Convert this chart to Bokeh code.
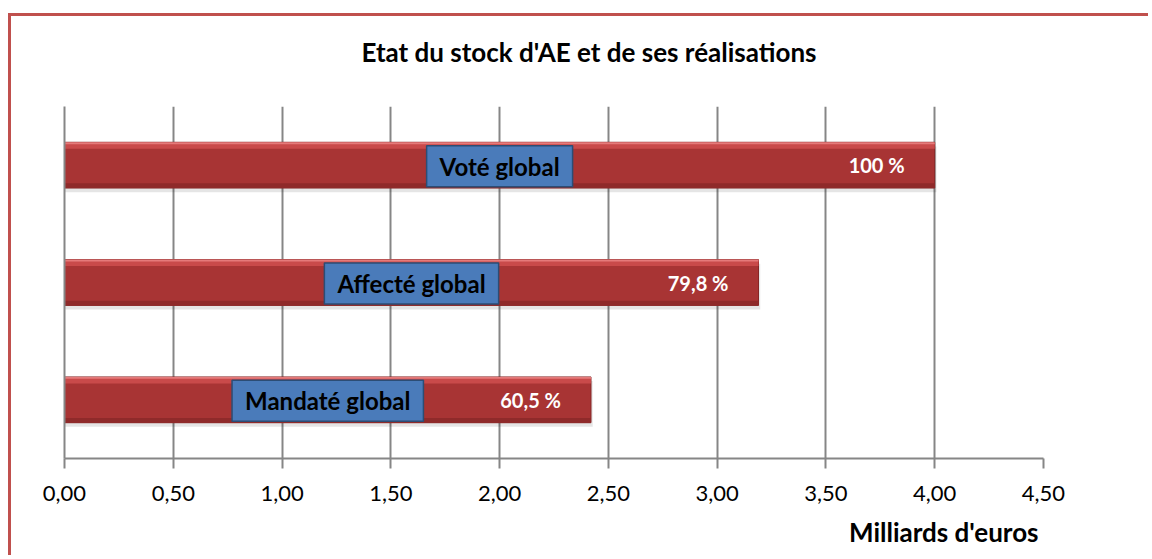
from bokeh.plotting import figure
from bokeh.models import FixedTicker, Range1d, Title
from bokeh.embed import file_html
from bokeh.resources import INLINE
from bokeh.core.properties import value

# ---- data ----
categories = ["Voté global", "Affecté global", "Mandaté global"]
amounts = [4.00, 3.19, 2.42]
percent_labels = ["100 %", "79,8 %", "60,5 %"]
tick_values = [0, 0.5, 1, 1.5, 2, 2.5, 3, 3.5, 4, 4.5]
tick_labels = ["0,00", "0,50", "1,00", "1,50", "2,00", "2,50", "3,00", "3,50", "4,00", "4,50"]
title_text = "Etat du stock d'AE et de ses réalisations"
x_label = "Milliards d'euros"

FONT = "Lato"
n = len(categories)
ypos = [n - i - 0.5 for i in range(n)]
bar_h = 0.39

p = figure(width=1140, height=542, output_backend="svg", toolbar_location=None,
           x_range=Range1d(0, 4.5), y_range=Range1d(0, n),
           min_border_left=53, min_border_right=108, min_border_top=90, min_border_bottom=99)
p.margin = (13, 0, 0, 8)
p.styles = {"border-left": "3px solid #C0504D", "border-top": "3px solid #C0504D"}
p.outline_line_color = None
p.background_fill_color = "white"
p.border_fill_color = "white"

# spacer between frame and title, then the title (outermost)
p.add_layout(Title(text=" ", text_font_size="1px", standoff=34), "above")
p.title = Title(text=title_text, align="left", offset=297, standoff=4,
                text_font=FONT, text_font_size="26px", text_font_style="bold",
                text_color="black")
p.add_layout(Title(text=x_label, align="right", offset=5, standoff=21,
                   text_font=FONT, text_font_size="26px", text_font_style="bold",
                   text_color="black"), "below")

# axes
p.xaxis.ticker = FixedTicker(ticks=tick_values)
p.xaxis.major_label_overrides = {t: l for t, l in zip(tick_values, tick_labels)}
p.xaxis.axis_line_color = "#868686"
p.xaxis.axis_line_width = 2
p.xaxis.major_tick_line_color = "#868686"
p.xaxis.major_tick_line_width = 2
p.xaxis.major_tick_out = 10
p.xaxis.major_tick_in = 0
p.xaxis.minor_tick_line_color = None
p.xaxis.major_label_text_font = FONT
p.xaxis.major_label_text_font_size = "22px"
p.xaxis.major_label_text_color = "black"
p.xaxis.major_label_standoff = 17

p.yaxis.ticker = FixedTicker(ticks=[])
p.yaxis.axis_line_color = "#868686"
p.yaxis.axis_line_width = 2
p.yaxis.minor_tick_line_color = None
p.yaxis.major_tick_line_color = None

p.xgrid.ticker = FixedTicker(ticks=tick_values)
p.xgrid.grid_line_color = "#868686"
p.xgrid.grid_line_width = 2
p.ygrid.grid_line_color = None

# shadow
p.hbar(y=[y - 0.035 for y in ypos], left=0, right=[a + 0.008 for a in amounts], height=bar_h,
       fill_color="black", fill_alpha=0.10, line_color=None)
# bars
p.hbar(y=ypos, left=0, right=amounts, height=bar_h,
       fill_color="#A83434", line_color="#862626", line_width=1)
# bevel: light top band and darker bottom band
p.hbar(y=[y + bar_h / 2 - 0.03 for y in ypos], left=0, right=amounts, height=0.05,
       fill_color="#C94A4A", line_color=None)
p.hbar(y=[y + bar_h / 2 - 0.008 for y in ypos], left=0, right=amounts, height=0.016,
       fill_color="#E57A7A", line_color=None)
p.hbar(y=[y - bar_h / 2 + 0.02 for y in ypos], left=0, right=amounts, height=0.04,
       fill_color="#8F2A2A", line_color=None)

# category boxes at bar middle
p.text(x=[a / 2 for a in amounts], y=ypos, text=categories,
       text_align="center", text_baseline="middle", y_offset=1,
       text_font=value(FONT), text_font_style="bold", text_font_size="24px",
       text_color="black", background_fill_color="#4A7BBA",
       border_line_color="#2C4D75", border_line_width=1.5,
       padding=dict(left=13, right=13, top=6, bottom=6))

# percentage labels
p.text(x=amounts, y=ypos, text=percent_labels, x_offset=-30,
       text_align="right", text_baseline="middle",
       text_font=value(FONT), text_font_style="bold", text_font_size="20px",
       text_color="white")

open("out.html", "w").write(file_html(p, INLINE))
